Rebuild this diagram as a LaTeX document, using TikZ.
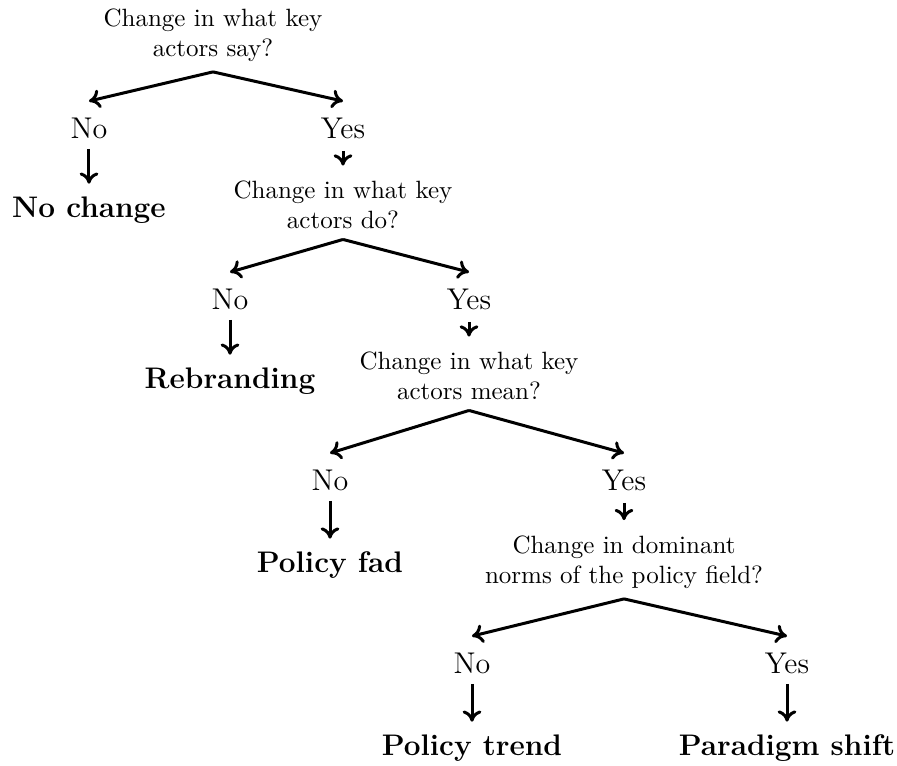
\documentclass[tikz,border=0pt]{standalone}
\usepackage{tikz}
\usetikzlibrary{arrows.meta,positioning}

\begin{document}
\begin{tikzpicture}[
  on grid,
  question/.style={align=center,font=\fontsize{10}{12}\selectfont,inner sep=2pt},
  answer/.style={font=\fontsize{12}{14}\selectfont,inner sep=2pt},
  outcome/.style={font=\fontsize{11.9}{14}\selectfont\bfseries,inner sep=2pt},
  branch/.style={-{To[length=4.5pt,width=7.5pt]},line width=1.2pt},
  down/.style={-{To[length=4.5pt,width=7.5pt]},line width=1.2pt,shorten <=2pt,shorten >=3pt},
  into/.style={down,shorten <=2.8pt,shorten >=4pt}
]
  \node[question] (say) {Change in what key\\actors say?};
  \useasboundingbox ([shift={(-85.2pt,14pt)}]say.center) rectangle ([shift={(273.6pt,-292pt)}]say.center);

  \node[answer,below left=37.2pt and 49.6pt of say] (no1) {No};
  \node[answer,below right=37.2pt and 52pt of say] (yes1) {Yes};
  \node[outcome,below=32.8pt of no1] (nochange) {No change};

  \node[question,below=30.8pt of yes1] (do) {Change in what key\\actors do?};
  \node[answer,below left=37.6pt and 45.2pt of do] (no2) {No};
  \node[answer,below right=37.6pt and 50.4pt of do] (yes2) {Yes};
  \node[outcome,below=32.8pt of no2] (rebrand) {Rebranding};

  \node[question,below=30.8pt of yes2] (mean) {Change in what key\\actors mean?};
  \node[answer,below left=41.6pt and 55.6pt of mean] (no3) {No};
  \node[answer,below right=41.6pt and 62pt of mean] (yes3) {Yes};
  \node[outcome,below=34pt of no3] (fad) {Policy fad};

  \node[question,below=32.8pt of yes3] (norms) {Change in dominant\\norms of the policy field?};
  \node[answer,below left=40.4pt and 60.8pt of norms] (no4) {No};
  \node[answer,below right=40.4pt and 65.2pt of norms] (yes4) {Yes};
  \node[outcome,below=34pt of no4] (trend) {Policy trend};
  \node[outcome,below=34pt of yes4] (shift) {Paradigm shift};

  \draw[branch] ([yshift=-2pt]say.south) -- ([yshift=4.4pt]no1.north);
  \draw[branch] ([yshift=-2pt]say.south) -- ([yshift=4.4pt]yes1.north);
  \draw[down] (no1) -- (nochange);
  \draw[into] (yes1) -- (do);

  \draw[branch] ([yshift=-2pt]do.south) -- ([yshift=4.4pt]no2.north);
  \draw[branch] ([yshift=-2pt]do.south) -- ([yshift=4.4pt]yes2.north);
  \draw[down] (no2) -- (rebrand);
  \draw[into] (yes2) -- (mean);

  \draw[branch] ([yshift=-2pt]mean.south) -- ([yshift=4.4pt]no3.north);
  \draw[branch] ([yshift=-2pt]mean.south) -- ([yshift=4.4pt]yes3.north);
  \draw[down] (no3) -- (fad);
  \draw[into] (yes3) -- (norms);

  \draw[branch] ([yshift=-2pt]norms.south) -- ([yshift=4.4pt]no4.north);
  \draw[branch] ([yshift=-2pt]norms.south) -- ([yshift=4.4pt]yes4.north);
  \draw[down] (no4) -- (trend);
  \draw[down] (yes4) -- (shift);
\end{tikzpicture}
\end{document}
